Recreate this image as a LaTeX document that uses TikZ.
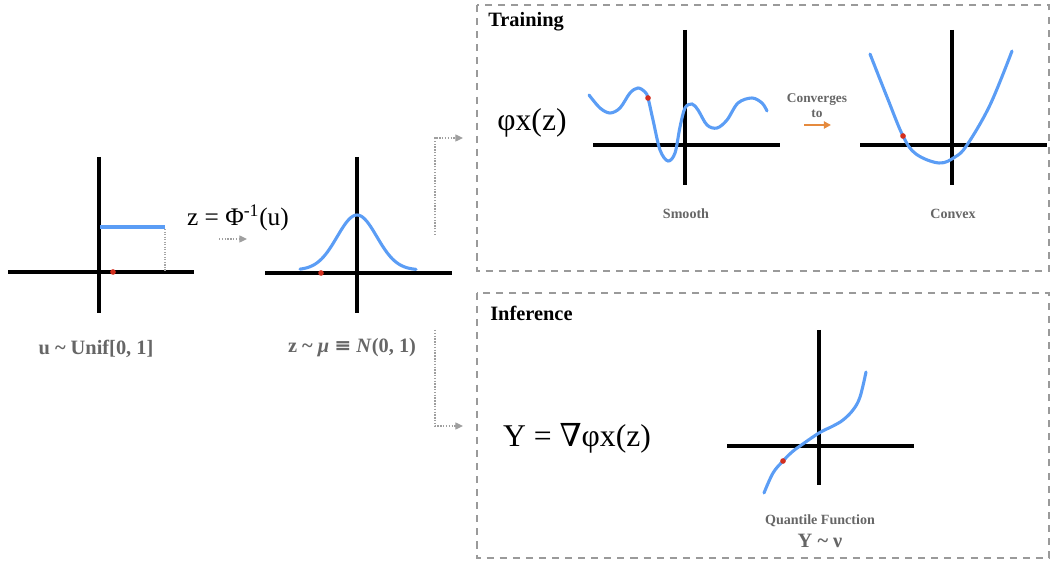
\documentclass[tikz,border=0pt]{standalone}
\usepackage{fontspec}
\setmainfont{Liberation Serif}
\newfontfamily\simbolos{DejaVu Serif}
\usetikzlibrary{arrows.meta, positioning}
\definecolor{CurvaAzul}{HTML}{5B9DF5}
\definecolor{PuntoRojo}{HTML}{D32F1E}
\definecolor{GrisTexto}{HTML}{666666}
\definecolor{GrisMarco}{HTML}{9A9A9A}
\definecolor{Naranja}{HTML}{E58A3E}

\begin{document}
\begin{tikzpicture}[
    x=0.025cm, y=-0.025cm,
    eje/.style={line width=2.3pt, black},
    curva/.style={line width=2.2pt, CurvaAzul, line cap=round},
    punto/.style={circle, fill=PuntoRojo, inner sep=0pt, minimum size=4pt},
    etiqueta/.style={text=GrisTexto, font=\bfseries\fontsize{14.5}{16}\selectfont, inner sep=1pt},
    pie/.style={text=GrisTexto, font=\bfseries\fontsize{10}{12}\selectfont, inner sep=1pt},
    formula/.style={font=\fontsize{22.5}{26}\selectfont, inner sep=1pt},
    titulo/.style={font=\bfseries\fontsize{14.5}{16}\selectfont, anchor=west, inner sep=0pt},
    marco/.style={draw=GrisMarco, line width=1pt, dash pattern=on 5pt off 4.3pt},
    flecha/.style={draw=gray!75, densely dotted, line width=1pt,
        -{Triangle[length=5.5pt, width=5pt, fill=gray!75]}},
]
\useasboundingbox (0,0) rectangle (1052,563);

% Marcos de entrenamiento e inferencia
\draw[marco] (477,5) rectangle (1049,271);
\draw[marco] (477,293) rectangle (1049,558);
\node[titulo] (training) at (488,22) {Training};
\node[titulo] (inference) at (490,313) {Inference};

% Distribucion uniforme
\draw[eje] (8,272) -- (194,272);
\draw[eje] (99,157) -- (99,313);
\draw[line width=2.2pt, CurvaAzul] (100,227) -- (165,227);
\draw[gray!70, densely dotted, line width=0.8pt] (165,229) -- (165,271);
\node[punto] (u0) at (113,272) {};
\node[etiqueta] (unif) at (96,349) {u \textasciitilde{} Unif[0, 1]};

% Transformacion
\node[formula, font=\fontsize{18}{21}\selectfont] (phiinv) at (238,218) {z = Φ\textsuperscript{-1}(u)};
\coordinate (tIni) at (219,239);
\coordinate (tFin) at (247,239);
\draw[flecha] (tIni) -- (tFin);

% Normal estandar
\draw[eje] (265,273) -- (452,273);
\draw[eje] (357,157) -- (357,313);
\draw[curva] plot[domain=300:416, samples=60] (\x, {270-55*exp(-((\x-357)/28)^2)});
\node[punto] (z0) at (321,273) {};
\node[etiqueta] (normal) at (352,348) {z \textasciitilde{} \textit{μ} {\simbolos ≡} \textit{N}(0, 1)};

% Flechas hacia los marcos
\coordinate (arribaIni) at (435,235);
\coordinate (arribaFin) at (463,138);
\coordinate (abajoIni) at (435,330);
\coordinate (abajoFin) at (463,426);
\draw[flecha] (arribaIni) |- (arribaFin);
\draw[flecha] (abajoIni) |- (abajoFin);

% Entrenamiento: suave -> convexa
\node[formula] (phix) at (532,123) {φx(z)};
\draw[eje] (593,145) -- (780,145);
\draw[eje] (685,30) -- (685,185);
\draw[curva] plot[smooth, tension=0.55] coordinates {
    (589,95) (600,108) (610,113) (620,108) (630,93) (638,88) (645,92) (648,98)
    (653,120) (660,150) (668,161) (675,153) (680,127) (685,108) (692,104)
    (698,110) (707,125) (717,128) (727,120) (738,103) (752,98) (762,103) (767,111)};
\node[punto] (s0) at (648,98) {};
\node[pie] (smooth) at (686,214) {Smooth};

\node[pie, font=\bfseries\fontsize{9.5}{10.5}\selectfont, align=center] (conv) at (817,106) {Converges\\to};
\coordinate (cIni) at (804,125);
\coordinate (cFin) at (831,125);
\draw[Naranja, line width=1.5pt, -{Triangle[length=5pt, width=5pt]}] (cIni) -- (cFin);

\draw[eje] (860,145) -- (1047,145);
\draw[eje] (952,30) -- (952,185);
\draw[curva] plot[smooth, tension=0.6] coordinates {
    (870,54) (887,97) (903,136) (916,154) (939,163) (955,157) (967,145) (990,105) (1012,51)};
\node[punto] (c0) at (903,136) {};
\node[pie] (convex) at (953,214) {Convex};

% Inferencia: funcion cuantil
\node[formula] (grad) at (577,438) {Y = {\simbolos ∇}φx(z)};
\draw[eje] (727,446) -- (914,446);
\draw[eje] (819,330) -- (819,485);
\draw[curva] plot[smooth, tension=0.6] coordinates {
    (764,493) (773,473) (783,461) (792,452) (800,446) (819,433) (833,426)
    (843,420) (853,410) (860,397) (866,372)};
\node[punto] (q0) at (783,461) {};
\node[pie] (quantile) at (820,521) {Quantile Function};
\node[etiqueta] (ynu) at (820,541) {Y \textasciitilde{} ν};

\end{tikzpicture}
\end{document}
